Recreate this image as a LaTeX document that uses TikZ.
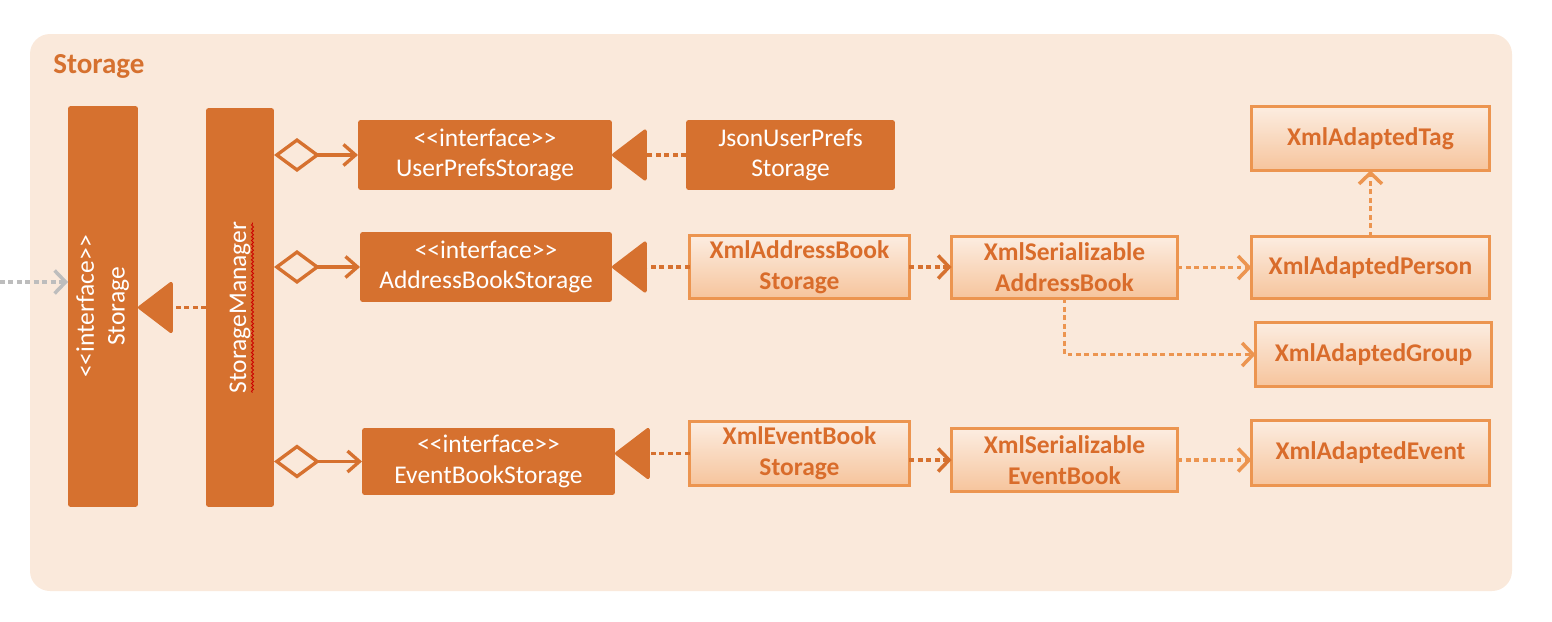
\documentclass[tikz,border=0pt]{standalone}
\usepackage{fontspec}
\setmainfont{Carlito}
\usetikzlibrary{arrows.meta,decorations.pathmorphing}

\definecolor{bgorange}{HTML}{FAE9DB}
\definecolor{dkorange}{HTML}{D6712F}
\definecolor{ltorange}{HTML}{EC9550}
\definecolor{txorange}{HTML}{D96C2B}
\definecolor{filltop}{HTML}{FCEDE1}
\definecolor{fillbot}{HTML}{F6C49C}
\definecolor{grayarrow}{HTML}{BDBDBD}

\newcommand{\stereo}[1]{<\kern0pt<#1>\kern0pt>}

\tikzset{
  darkbox/.style={fill=dkorange, text=white, rounded corners=1.5pt, inner sep=0pt, outer sep=0pt,
    align=center, font=\fontsize{14.5}{17.5}\selectfont},
  lightbox/.style={draw=ltorange, line width=1.7pt, top color=filltop, bottom color=fillbot,
    text=txorange, inner sep=0pt, outer sep=0pt, align=center, font=\bfseries\fontsize{14.5}{17.5}\selectfont},
  dep/.style={line width=2pt, dash pattern=on 2.8pt off 2pt, -{Straight Barb[length=0.22cm, width=0.46cm]}},
  realize/.style={draw=dkorange, line width=2pt, dash pattern=on 2.8pt off 2pt,
    -{Triangle[length=0.72cm, width=1.08cm, round]}},
  agg/.style={draw=dkorange, line width=1.9pt,
    {Diamond[open, length=0.92cm, width=0.68cm]}-{Straight Barb[length=0.24cm, width=0.42cm]}},
}

\begin{document}
\begin{tikzpicture}[x=0.02cm, y=-0.02cm]
    \useasboundingbox (0,0) rectangle (1552,622);
    \fill[bgorange, rounded corners=0.4cm] (30,34) rectangle (1512,591);
    \node[anchor=west, inner sep=0pt, text=dkorange, font=\bfseries\fontsize{16.5}{18}\selectfont] (title) at (53,66) {Storage};

    % left column
    \node[darkbox, minimum width=1.4cm, minimum height=8.02cm] (st) at (103,306.5)
        {\rotatebox{90}{\begin{tabular}{@{}c@{}}\stereo{interface}\\ Storage\end{tabular}}};
    \node[darkbox, minimum width=1.36cm, minimum height=7.98cm] (sm) at (240,307.5)
        {\rotatebox{90}{StorageManager}};
    \draw[red!80!black, line width=0.5pt, decorate, decoration={snake, amplitude=0.6pt, segment length=2.2pt}]
        ([xshift=0.25cm, yshift=-1.7cm]sm.center) -- ([xshift=0.25cm, yshift=1.7cm]sm.center);

    % interfaces
    \node[darkbox, minimum width=5.08cm, minimum height=1.4cm] (ups) at (485,155) {\stereo{interface}\\UserPrefsStorage};
    \node[darkbox, minimum width=5.04cm, minimum height=1.4cm] (abs) at (486,267) {\stereo{interface}\\AddressBookStorage};
    \node[darkbox, minimum width=5.06cm, minimum height=1.34cm] (ebs) at (488.5,461.5) {\stereo{interface}\\EventBookStorage};

    % implementations
    \node[darkbox, minimum width=4.18cm, minimum height=1.4cm] (json) at (790.5,155) {JsonUserPrefs\\Storage};
    \node[lightbox, minimum width=4.40cm, minimum height=1.26cm] (xabs) at (799.5,267) {XmlAddressBook\\Storage};
    \node[lightbox, minimum width=4.40cm, minimum height=1.28cm] (xebs) at (799.5,453.5) {XmlEventBook\\Storage};

    \node[lightbox, minimum width=4.52cm, minimum height=1.24cm] (xsab) at (1064.5,267.5) {XmlSerializable\\AddressBook};
    \node[lightbox, minimum width=4.52cm, minimum height=1.26cm] (xseb) at (1064.5,460) {XmlSerializable\\EventBook};

    \node[lightbox, minimum width=4.76cm, minimum height=1.28cm] (xtag) at (1370.5,138.5) {XmlAdaptedTag};
    \node[lightbox, minimum width=4.76cm, minimum height=1.24cm] (xperson) at (1370.5,267.5) {XmlAdaptedPerson};
    \node[lightbox, minimum width=4.72cm, minimum height=1.28cm] (xgroup) at (1373.5,354.5) {XmlAdaptedGroup};
    \node[lightbox, minimum width=4.76cm, minimum height=1.30cm] (xevent) at (1370.5,453) {XmlAdaptedEvent};

    % connectors
    \coordinate (in) at (0,282);
    \draw[dep, grayarrow] (in) -- (st.west |- in);
    \draw[realize] (sm.west) -- (st.east |- sm.west);

    \draw[agg] (sm.east |- ups) -- (ups.west);
    \draw[agg] (sm.east |- abs) -- (abs.west);
    \draw[agg] (sm.east |- ebs) -- (ebs.west);

    \draw[realize] (json.west) -- (ups.east);
    \draw[realize] (xabs.west) -- (abs.east);
    \draw[realize] (xebs.west) -- (ebs.east |- xebs.west);

    \draw[dep, dkorange] (xabs.east) -- (xsab.west |- xabs.east);
    \draw[dep, dkorange] (xebs.east |- xseb.west) -- (xseb.west);
    \draw[dep, ltorange] (xsab.east) -- (xperson.west |- xsab.east);
    \draw[dep, ltorange] (xperson.north) -- (xtag.south);
    \draw[dep, ltorange] (xsab.south) |- (xgroup.west);
    \draw[dep, ltorange] (xseb.east) -- (xevent.west |- xseb.east);
\end{tikzpicture}
\end{document}
